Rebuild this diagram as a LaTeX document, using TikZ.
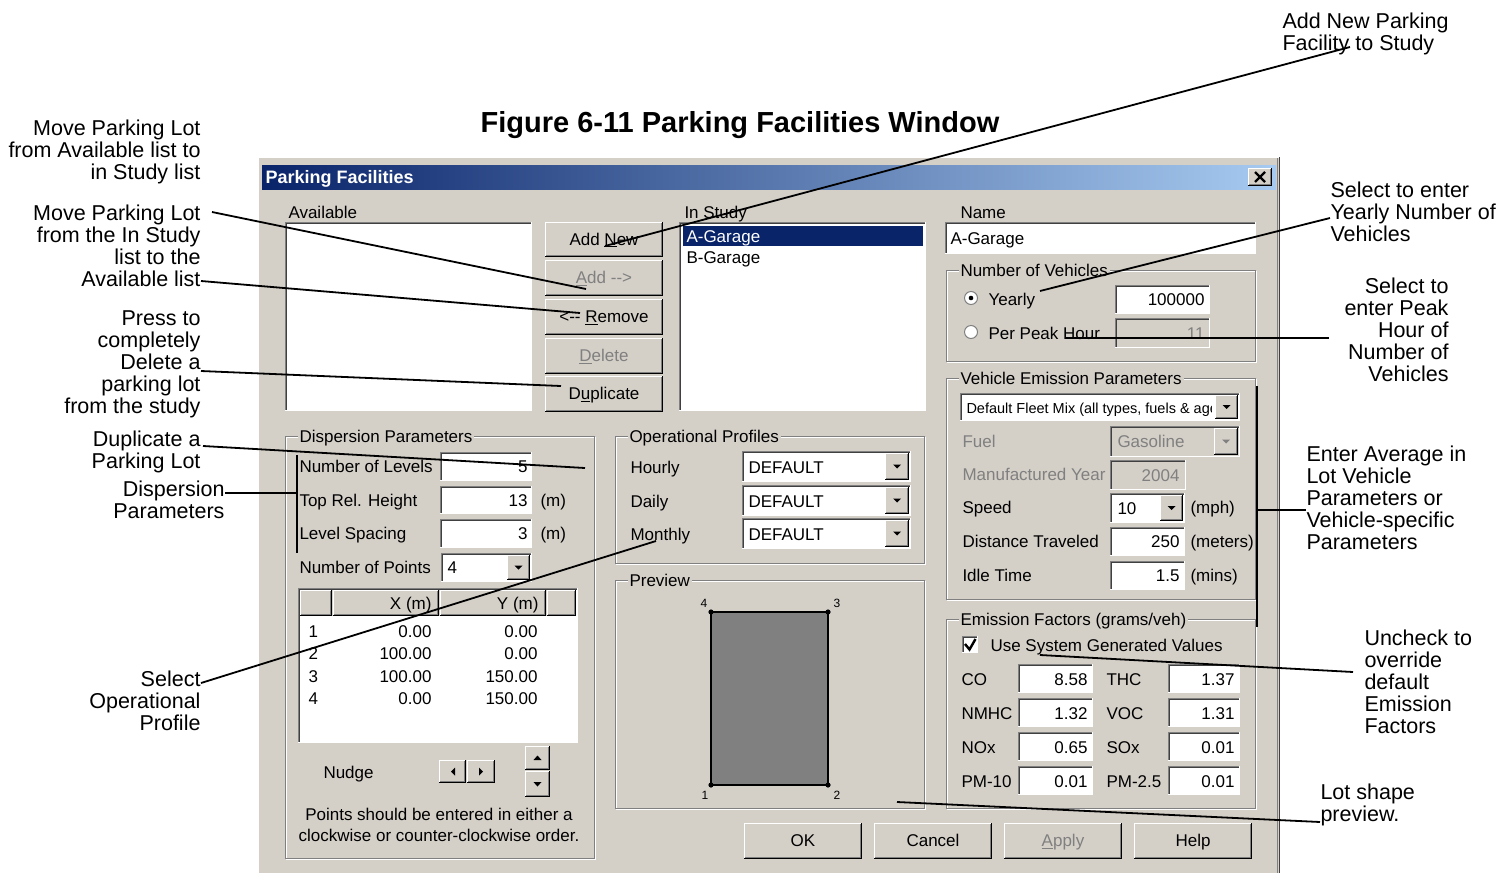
\documentclass[tikz,border=0pt]{standalone}
\usepackage{fontspec}
\setmainfont{Liberation Sans}
\definecolor{winbg}{HTML}{D4D0C8}
\definecolor{dkgray}{HTML}{808080}
\definecolor{dkgrayb}{HTML}{404040}
\definecolor{navy}{HTML}{0A246A}
\definecolor{ltblue}{HTML}{A6CAF0}
\definecolor{distext}{HTML}{808080}
\definecolor{prevgray}{HTML}{808080}
\newcommand\dlgf{\fontsize{17}{18}\selectfont}
\newcommand\annf{\fontsize{21.5}{22}\selectfont}
% raised 3D box
\newcommand\wraise[4]{%
  \fill[winbg] (#1,#2) rectangle (#3,#4);
  \draw[white] (#1+0.5,#4) -- (#1+0.5,#2+0.5) -- (#3,#2+0.5);
  \draw[black] (#1,#4-0.5) -- (#3-0.5,#4-0.5) -- (#3-0.5,#2);
  \draw[dkgray] (#1+1,#4-1.5) -- (#3-1.5,#4-1.5) -- (#3-1.5,#2+1);
}
% sunken 3D box
\newcommand\wsunk[5]{%
  \fill[#5] (#1,#2) rectangle (#3,#4);
  \draw[dkgray] (#1+0.5,#4) -- (#1+0.5,#2+0.5) -- (#3,#2+0.5);
  \draw[dkgrayb] (#1+1.5,#4-1) -- (#1+1.5,#2+1.5) -- (#3-1,#2+1.5);
  \draw[white] (#1,#4-0.5) -- (#3-0.5,#4-0.5) -- (#3-0.5,#2);
}
% dropdown button
\newcommand\wddc[5]{%
  \wraise{#1}{#2}{#3}{#4}
  \fill[#5] ({(#1+#3)/2-4},{(#2+#4)/2-2}) -- ({(#1+#3)/2+4},{(#2+#4)/2-2}) -- ({(#1+#3)/2},{(#2+#4)/2+2}) -- cycle;
}
% push button with text
\newcommand\wbtn[6]{%
  \wraise{#2}{#3}{#4}{#5}
  \node[tc] (#1) at ({(#2+#4)/2},{(#3+#5)/2+5.5}) {#6};
}
% group frame
\newcommand\wgroup[6]{%
  \draw[white] (#2+1,#3+1) rectangle (#4+1,#5+1);
  \draw[dkgray] (#2,#3) rectangle (#4,#5);
  \node[gtitle] (#1) at (#2+12,#3+6) {#6};
}
\begin{document}
\begin{tikzpicture}[x=1pt,y=-1pt,line width=1pt,
  t/.style={anchor=base west,inner sep=0pt,font=\dlgf},
  tr/.style={anchor=base east,inner sep=0pt,font=\dlgf},
  tc/.style={anchor=base,inner sep=0pt,font=\dlgf},
  dis/.style={text=distext},
  annR/.style={anchor=north east,inner sep=0pt,font=\annf,align=right},
  annL/.style={anchor=north west,inner sep=0pt,font=\annf,align=left},
  conn/.style={line width=1.8pt,black},
  gtitle/.style={anchor=base west,inner xsep=2pt,inner ysep=1pt,fill=winbg,font=\dlgf},
  pnum/.style={inner sep=0pt,font=\fontsize{12}{13}\selectfont}]
\useasboundingbox (0,0) rectangle (1502,873);
\fill[white] (0,0) rectangle (1502,873);

% ---------- figure title
\node[anchor=base,inner sep=0pt,font=\fontsize{29}{32}\selectfont\bfseries] (figtitle) at (740,132) {Figure 6-11 Parking Facilities Window};

% ---------- window
\fill[winbg] (258,157) rectangle (1280,873);
\draw[white] (258.5,873) -- (258.5,157.5) -- (1279,157.5);
\draw[dkgray] (1277.5,158) -- (1277.5,873);
\draw[dkgrayb] (1279.5,157) -- (1279.5,873);
\shade[left color=navy,right color=ltblue] (262,165) rectangle (1276,189);
\node[anchor=base west,inner sep=0pt,font=\fontsize{18}{20}\selectfont\bfseries,text=white] (wintitle) at (265,183.5) {Parking Facilities};
\wraise{1248}{168}{1272}{186}
\draw[line width=2.4pt] (1255,172) -- (1265,182) (1265,172) -- (1255,182);

% ---------- lists and buttons
\node[t] (lavail) at (288,218) {Available};
\wsunk{285}{222}{532}{411}{white}
\wbtn{bAddNew}{545}{222}{663}{257}{Add \underline{N}ew}
\wbtn{bAdd}{545}{260}{663}{296}{\textcolor{distext}{\underline{A}dd -{}->}}
\wbtn{bRemove}{545}{299}{663}{335}{<-{}- \underline{R}emove}
\wbtn{bDelete}{545}{338}{663}{374}{\textcolor{distext}{\underline{D}elete}}
\wbtn{bDup}{545}{376}{663}{412}{D\underline{u}plicate}

\node[t] (linstudy) at (684,218) {In Study};
\wsunk{679}{222}{926}{411}{white}
\fill[navy] (683,226) rectangle (923,246);
\node[t,text=white] (itemA) at (686,242.5) {A-Garage};
\node[t] (itemB) at (686,263.5) {B-Garage};

\node[t] (lname) at (960,218) {Name};
\wsunk{945}{222}{1256}{254}{white}
\node[t] (vname) at (950,244) {A-Garage};

% ---------- Number of Vehicles
\wgroup{gNum}{946}{270}{1255}{361}{Number of Vehicles}
\draw[dkgray,fill=white] (971,298) circle (6.5);
\fill (971,298) circle (2.3);
\node[t] (lyearly) at (988,305) {Yearly};
\wsunk{1115}{285}{1210}{314}{white}
\node[tr] (vyearly) at (1205,305) {100000};
\draw[dkgray,fill=white] (971,332) circle (6.5);
\node[t] (lpeak) at (988,339) {Per Peak Hour};
\wsunk{1115}{318}{1210}{348}{winbg}
\node[tr,dis] (vpeak) at (1205,339) {11};

% ---------- Vehicle Emission Parameters
\wgroup{gVeh}{946}{378}{1255}{599}{Vehicle Emission Parameters}
\wsunk{960}{393}{1240}{421}{white}
\begin{scope}
\clip (963,395) rectangle (1211,420);
\node[anchor=base west,inner sep=0pt,font=\fontsize{14.5}{16}\selectfont] (fleet) at (966,413) {Default Fleet Mix (all types, fuels \& age)};
\end{scope}
\wddc{1215}{395}{1238}{419}{black}
\node[t,dis] (lfuel) at (962,447) {Fuel};
\wsunk{1110}{426}{1240}{457}{winbg}
\node[t,dis] (vfuel) at (1117,447.5) {Gasoline};
\wddc{1214}{428}{1238}{455}{dkgray}
\node[t,dis] (lyear) at (962,480.5) {Manufactured Year};
\wsunk{1110}{460}{1186}{490}{winbg}
\node[tr,dis] (vyear) at (1180,481) {2004};
\node[t] (lspeed) at (962,513) {Speed};
\wsunk{1110}{493}{1185}{523}{white}
\node[t] (vspeed) at (1117,514) {10};
\wddc{1160}{495}{1183}{521}{black}
\node[t] (uspeed) at (1190,513) {(mph)};
\node[t] (ldist) at (962,547) {Distance Traveled};
\wsunk{1110}{527}{1185}{556}{white}
\node[tr] (vdist) at (1180,547) {250};
\node[t] (udist) at (1190,547) {(meters)};
\node[t] (lidle) at (962,581) {Idle Time};
\wsunk{1110}{561}{1185}{590}{white}
\node[tr] (vidle) at (1180,581) {1.5};
\node[t] (uidle) at (1190,581) {(mins)};

% ---------- Emission Factors
\wgroup{gEF}{946}{619}{1255}{808}{Emission Factors (grams/veh)}
\wsunk{962}{636}{978}{653}{white}
\draw[line width=2.4pt] (965,644) -- (969.5,649.5) -- (975.5,639);
\node[t] (lusesys) at (990,651) {Use System Generated Values};
\foreach \yy/\la/\va/\lb/\vb/\nm in {664/CO/8.58/THC/1.37/r1,698/NMHC/1.32/VOC/1.31/r2,732/NOx/0.65/SOx/0.01/r3,766/PM-10/0.01/PM-2.5/0.01/r4}{
  \wsunk{1018}{\yy}{1093}{\yy+29}{white}
  \wsunk{1168}{\yy}{1240}{\yy+29}{white}
  \node[t] (ef\nm la) at (961,\yy+21) {\la};
  \node[tr] (ef\nm va) at (1088,\yy+21) {\va};
  \node[t] (ef\nm lb) at (1106,\yy+21) {\lb};
  \node[tr] (ef\nm vb) at (1235,\yy+21) {\vb};
}

% ---------- bottom buttons
\wbtn{bOK}{744}{823}{862}{859}{OK}
\wbtn{bCancel}{874}{823}{992}{859}{Cancel}
\wbtn{bApply}{1004}{823}{1122}{859}{\textcolor{distext}{\underline{A}pply}}
\wbtn{bHelp}{1134}{823}{1252}{859}{Help}

% ---------- Dispersion Parameters
\wgroup{gDisp}{285}{436}{594}{858}{Dispersion Parameters}
\node[t] (lnlev) at (299,472) {Number of Levels};
\wsunk{440}{452}{532}{481}{white}
\node[tr] (vnlev) at (528,472) {5};
\node[t] (ltop) at (299,506) {Top Rel. Height};
\wsunk{440}{486}{532}{514}{white}
\node[tr] (vtop) at (528,506) {13};
\node[t] (utop) at (540,506) {(m)};
\node[t] (lspace) at (299,539.5) {Level Spacing};
\wsunk{440}{519}{532}{548}{white}
\node[tr] (vspace) at (528,539.5) {3};
\node[t] (uspace) at (540,539.5) {(m)};
\node[t] (lnpts) at (299,573) {Number of Points};
\wsunk{441}{553}{532}{582}{white}
\node[t] (vnpts) at (447,573) {4};
\wddc{507}{555}{530}{580}{black}
% grid
\wsunk{298}{588}{578}{743}{white}
\fill[winbg] (300,590) rectangle (576,616);
\wraise{300}{590}{332}{616}
\wraise{333}{590}{439}{616}
\wraise{440}{590}{546}{616}
\wraise{547}{590}{576}{616}
\node[tr] (hx) at (432,609.5) {X (m)};
\node[tr] (hy) at (539,609.5) {Y (m)};
\foreach \yy/\n/\xv/\yv in {637/1/0.00/0.00,659/2/100.00/0.00,682/3/100.00/150.00,704/4/0.00/150.00}{
  \node[t] (row\n) at (308,\yy) {\n};
  \node[tr] (rowx\n) at (432,\yy) {\xv};
  \node[tr] (rowy\n) at (538,\yy) {\yv};
}
\node[t] (lnudge) at (323,778) {Nudge};
\wraise{439}{760}{466}{783}
\fill ({452.5+2.5},{771.5-4}) -- ({452.5+2.5},{771.5+4}) -- ({452.5-1.5},771.5) -- cycle;
\wraise{467}{760}{495}{783}
\fill ({481-2},{771.5-4}) -- ({481-2},{771.5+4}) -- ({481+2},771.5) -- cycle;
\wraise{525}{746}{550}{770}
\fill (533.5,760) -- (541.5,760) -- (537.5,755.5) -- cycle;
\wraise{525}{771}{550}{797}
\fill (533.5,782) -- (541.5,782) -- (537.5,786.5) -- cycle;
\node[tc] (pts1) at (439,820) {Points should be entered in either a};
\node[tc] (pts2) at (439,841) {clockwise or counter-clockwise order.};

% ---------- Operational Profiles
\wgroup{gOp}{615}{436}{924}{563}{Operational Profiles}
\foreach \yy/\lab/\nm in {451/Hourly/h,485/Daily/d,518/Monthly/m}{
  \node[t] (op\nm) at (630,\yy+22) {\lab};
  \wsunk{742}{\yy}{911}{\yy+31}{white}
  \node[t] (opv\nm) at (748,\yy+22) {DEFAULT};
  \wddc{885}{\yy+2}{909}{\yy+29}{black}
}

% ---------- Preview
\wgroup{gPrev}{615}{580}{924}{808}{Preview}
\filldraw[fill=prevgray,draw=black,line width=1.6pt] (711,612) rectangle (828,785);
\foreach \px/\py in {711/612,828/612,711/785,828/785}{\fill (\px,\py) circle (2.6);}
\node[pnum] (pv4) at (704,603) {4};
\node[pnum] (pv3) at (837,603) {3};
\node[pnum] (pv1) at (705,795) {1};
\node[pnum] (pv2) at (837,795) {2};

% ---------- annotations
\node[annR] (aMoveIn) at (201,119) {Move Parking Lot\\from Available list to\\in Study list};
\node[annR] (aMoveOut) at (201,204) {Move Parking Lot\\from the In Study\\list to the\\Available list};
\node[annR] (aDelete) at (201,310) {Press to\\completely\\Delete a\\parking lot\\from the study};
\node[annR] (aDup) at (201,430) {Duplicate a\\Parking Lot};
\node[annR] (aDisp) at (225,480) {Dispersion\\Parameters};
\node[annR] (aOp) at (201,670) {Select\\Operational\\Profile};
\node[annL] (aAddNew) at (1282,12) {Add New Parking\\Facility to Study};
\node[annL] (aYearly) at (1330,181) {Select to enter\\Yearly Number of\\Vehicles};
\node[annR] (aPeak) at (1449,277) {Select to\\enter Peak\\Hour of\\Number of\\Vehicles};
\node[annL] (aVeh) at (1306,445) {Enter Average in\\Lot Vehicle\\Parameters or\\Vehicle-specific\\Parameters};
\node[annL] (aUncheck) at (1364,629) {Uncheck to\\override\\default\\Emission\\Factors};
\node[annL] (aShape) at (1320,783) {Lot shape\\preview.};

% ---------- connectors
\coordinate (c1a) at (212,212);  \coordinate (c1b) at (586,289);
\coordinate (c2a) at (201,281);  \coordinate (c2b) at (580,313);
\coordinate (c3a) at (201,371);  \coordinate (c3b) at (561,386);
\coordinate (c4a) at (203,446);  \coordinate (c4b) at (585,468);
\coordinate (c5a) at (225,493);  \coordinate (c5b) at (297,493);
\coordinate (c5t) at (297,455);  \coordinate (c5u) at (297,553);
\coordinate (c6a) at (201,683);  \coordinate (c6b) at (656,541);
\coordinate (c7a) at (1350,47);  \coordinate (c7b) at (605,246);
\coordinate (c8a) at (1330,218); \coordinate (c8b) at (1040,291);
\coordinate (c9a) at (1329,338); \coordinate (c9b) at (1066,338);
\coordinate (c10t) at (1257,386); \coordinate (c10u) at (1257,627);
\coordinate (c10m) at (1257,510); \coordinate (c10a) at (1306,510);
\coordinate (c11a) at (1353,672); \coordinate (c11b) at (1040,655);
\coordinate (c12a) at (1320,822); \coordinate (c12b) at (897,802);
\draw[conn] (c1a) -- (c1b);
\draw[conn] (c2a) -- (c2b);
\draw[conn] (c3a) -- (c3b);
\draw[conn] (c4a) -- (c4b);
\draw[conn] (c5a) -- (c5b);
\draw[conn] (c5t) -- (c5u);
\draw[conn] (c6a) -- (c6b);
\draw[conn] (c7a) -- (c7b);
\draw[conn] (c8a) -- (c8b);
\draw[conn] (c9a) -- (c9b);
\draw[conn] (c10t) -- (c10u);
\draw[conn] (c10m) -- (c10a);
\draw[conn] (c11a) -- (c11b);
\draw[conn] (c12a) -- (c12b);
\end{tikzpicture}
\end{document}
